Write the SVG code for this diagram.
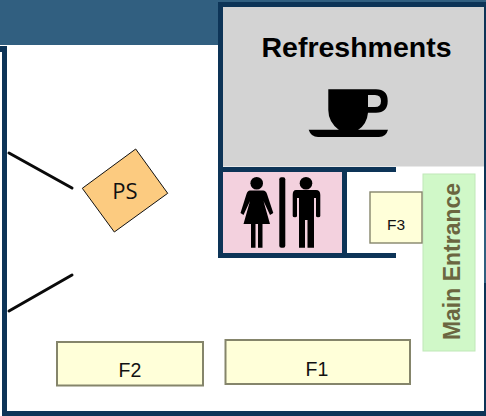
<svg xmlns="http://www.w3.org/2000/svg" width="486" height="416" viewBox="0 0 486 416">
<style>
.wall{fill:#0d3457}
.fix{fill:#ffffd9;stroke:#85856b;stroke-width:2}
.lbl{font-family:"Liberation Sans",Arial,sans-serif;fill:#111;text-anchor:middle}
.door{stroke:#0a0a0a;stroke-width:3;stroke-linecap:round;fill:none}
</style>
<rect width="486" height="416" fill="#fff"/>
<rect id="band" x="0" y="0" width="486" height="45" fill="#315f80"/>
<g id="walls">
<rect x="7" y="45" width="211" height="371" fill="#fff"/>
<rect class="wall" x="2" y="52" width="5" height="364"/>
<rect class="wall" x="0" y="46" width="7" height="6"/>
<rect class="wall" x="2" y="411" width="484" height="5"/>
<rect class="wall" x="218" y="2" width="268" height="5"/>
<rect class="wall" x="484" y="7" width="2" height="409"/>
<rect x="484" y="210" width="2" height="73" fill="#315f80"/>
<rect class="wall" x="218" y="2" width="5" height="256"/>
<rect x="223" y="7" width="261" height="404" fill="#fff"/>
<rect class="wall" x="218" y="167" width="178" height="5"/>
<rect class="wall" x="218" y="253" width="178" height="5"/>
<rect class="wall" x="342" y="172" width="5" height="86"/>
</g>
<g id="refreshments">
<rect x="223" y="7" width="261" height="159.500" fill="#d3d3d3"/>
<text x="356.500" y="57" class="lbl" font-size="28.500" font-weight="700" style="fill:#000">Refreshments</text>
<path d="M328.300 89.300H376Q387.700 89.300 387.700 101Q387.700 112.700 376 112.700H368Q367 124 358 130H339Q328.300 122 328.300 110ZM368 95V107H375Q381 107 381 101Q381 95 375 95Z" fill="#000" fill-rule="evenodd"/>
<path d="M308.700 129.700H388Q386 137 379 137H318Q311 137 308.700 129.700Z" fill="#000"/>
</g>
<g id="restroom">
<rect x="223" y="172" width="119" height="81" fill="#f3d1de"/>
<circle cx="256.700" cy="183.300" r="6.300" fill="#000"/>
<path d="M250 190.500H263Q266 190.500 267 194L273.300 213L270 215L263.500 201L270 224H262.500V247.700H258V224H255.500V247.700H251V224H243.500L250 201L243.500 215L240.500 213L246.500 194Q247.500 190.500 250 190.500Z" fill="#000"/>
<rect x="279.300" y="177.300" width="6" height="70.400" rx="2" fill="#000"/>
<circle cx="306" cy="183.300" r="6.300" fill="#000"/>
<path d="M296 190H316Q320.300 190 320.300 195V216Q320.300 217.300 318 217.300Q316 217.300 316 216V198H314V247.700H307.500V220H305V247.700H299V198H297V216Q297 217.300 295 217.300Q292.700 217.300 292.700 216V195Q292.700 190 296 190Z" fill="#000"/>
</g>
<g id="connectors">
<line class="door" x1="9" y1="153" x2="72" y2="188"/>
<line class="door" x1="9" y1="311" x2="72" y2="275"/>
</g>
<g id="PS">
<polygon points="135.700,149 167.700,193.300 114.300,232 82.300,188.300" fill="#fccb80" stroke="#111" stroke-width="1"/>
<text x="125" y="199" font-family="'Open Sans','Noto Sans',sans-serif" font-size="22" fill="#111" text-anchor="middle">PS</text>
</g>
<g id="F2">
<rect class="fix" x="57" y="342" width="146" height="43.500"/>
<text x="130" y="377" class="lbl" font-size="19.500">F2</text>
</g>
<g id="F1">
<rect class="fix" x="225.500" y="340" width="184.500" height="44"/>
<text x="317" y="376" class="lbl" font-size="19.500">F1</text>
</g>
<g id="main-entrance">
<rect x="423" y="174" width="52" height="177" fill="#d0f8c8" stroke="#c0e8b8" stroke-width="1"/>
<text transform="translate(460 261.500) rotate(-90)" font-family="'Liberation Sans',Arial,sans-serif" font-size="23" font-weight="700" fill="#6b6640" text-anchor="middle">Main Entrance</text>
</g>
<g id="F3">
<rect class="fix" x="370" y="192" width="52" height="51" style="stroke-width:1.400"/>
<text x="396" y="230" class="lbl" font-size="15.500">F3</text>
</g>
</svg>
